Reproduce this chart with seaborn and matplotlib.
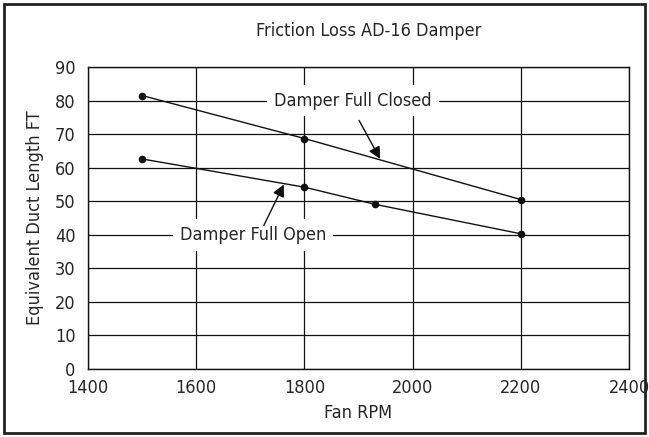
import matplotlib
matplotlib.use("Agg")
import matplotlib.pyplot as plt
import seaborn as sns
import pandas as pd
from matplotlib.patches import Rectangle

# values
closed_rpm = [1500, 1800, 2200]
closed_ft = [81.5, 68.7, 50.5]
open_rpm = [1500, 1800, 1930, 2200]
open_ft = [62.6, 54.2, 49.1, 40.3]

x_ticks = [1400, 1600, 1800, 2000, 2200, 2400]
y_ticks = [0, 10, 20, 30, 40, 50, 60, 70, 80, 90]

df = pd.concat([
    pd.DataFrame({'rpm': closed_rpm, 'ft': closed_ft, 'state': 'Damper Full Closed'}),
    pd.DataFrame({'rpm': open_rpm, 'ft': open_ft, 'state': 'Damper Full Open'}),
])

sns.set_style("white")
plt.rcParams['font.family'] = ['DejaVu Sans']
plt.rcParams['font.stretch'] = 'condensed'

fig = plt.figure(figsize=(6.49, 4.37), dpi=100)
ax = fig.add_axes([0.1356, 0.1556, 0.8336, 0.691])

# frame around the whole figure
fig.patches.append(Rectangle((0.006, 0.009), 0.988, 0.982, transform=fig.transFigure,
                             fill=False, edgecolor='#222222', linewidth=2))

sns.lineplot(data=df, x='rpm', y='ft', units='state', estimator=None, color='#111111',
             marker='o', markersize=5.5, markeredgewidth=0, linewidth=1, ax=ax, zorder=3)

ax.set_xlim(1400, 2400)
ax.set_ylim(0, 90)
ax.set_xticks(x_ticks)
ax.set_yticks(y_ticks)
ax.tick_params(axis='x', length=0, labelsize=13, pad=7)
ax.tick_params(axis='y', length=0, labelsize=13, pad=9)
ax.grid(True, color='#111111', linewidth=0.9)
ax.set_axisbelow(True)
for s in ax.spines.values():
    s.set_color('#111111')
    s.set_linewidth(1)

ax.set_xlabel('Fan RPM', fontsize=13, labelpad=5)
ax.set_ylabel('Equivalent Duct Length FT', fontsize=13, labelpad=8)
fig.text(0.568, 0.928, 'Friction Loss AD-16 Damper', ha='center', va='center', fontsize=13)

box = dict(facecolor='white', edgecolor='none', pad=5)
arrow = dict(arrowstyle='-|>', color='#111111', lw=1, mutation_scale=18, shrinkA=0, shrinkB=0)
ax.text(1890, 80, 'Damper Full Closed', ha='center', va='center', fontsize=13, bbox=box, zorder=4)
ax.annotate('', xy=(1940, 62.6), xytext=(1901, 74.1), arrowprops=arrow, zorder=4)
ax.text(1705, 40, 'Damper Full Open', ha='center', va='center', fontsize=13, bbox=box, zorder=4)
ax.annotate('', xy=(1762, 55.0), xytext=(1725, 42.8), arrowprops=arrow, zorder=4)

fig.savefig('out.png', dpi=100)
